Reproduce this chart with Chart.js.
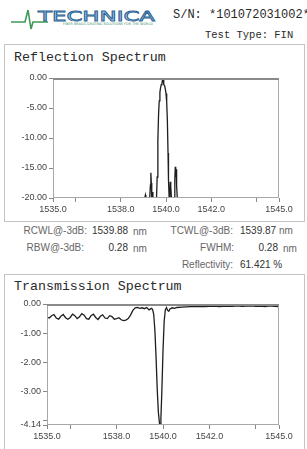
<!DOCTYPE html>
<html><head><meta charset="utf-8">
<script src="https://cdn.jsdelivr.net/npm/chart.js@4/dist/chart.umd.min.js"></script>
<style>
html,body{margin:0;padding:0;background:#fff;}
body{width:307px;height:449px;overflow:hidden;position:relative;font-family:"Liberation Sans",Arial,sans-serif;}
.abs{position:absolute;white-space:nowrap;}
.box{position:absolute;border:1px solid #c4c4c4;box-sizing:border-box;}
.mono{font-family:"Liberation Mono","DejaVu Sans Mono",monospace;color:#2a2a2a;}
.lbl{font-size:10px;color:#666;line-height:12px;}
.val{font-size:10px;color:#333;line-height:12px;}
canvas{position:absolute;}
</style></head>
<body>
<svg class="abs" style="left:0;top:0" width="170" height="34" viewBox="0 0 170 34">
  <polyline points="11,22 25,22 28,10 31,29 33,22 48,22" fill="none" stroke="#3f9a55" stroke-width="1.6"/>
  <text x="38" y="21" textLength="117" lengthAdjust="spacingAndGlyphs" font-family="DejaVu Sans" font-size="14" fill="#b9d5ec" stroke="#2d6596" stroke-width="0.8">TECHNICA</text>
  <text x="63" y="25" textLength="90" lengthAdjust="spacingAndGlyphs" font-family="DejaVu Sans" font-size="3.5" fill="#3f8f6a">FIBER BRAGG GRATING SOLUTIONS FOR THE WORLD</text>
</svg>
<div class="abs mono" style="left:173px;top:7px;font-size:12px;line-height:16px;">S/N: *101072031002*</div>
<div class="abs mono" style="left:205px;top:29px;font-size:10.5px;line-height:13px;">Test Type: FIN</div>

<div class="box" style="left:4px;top:44px;width:301px;height:178px;"></div>
<div class="abs mono" style="left:14px;top:50px;font-size:13.3px;line-height:16px;">Reflection Spectrum</div>
<canvas id="refl" style="left:0;top:68px;" width="295" height="148"></canvas>

<div class="abs lbl" style="left:0;top:225px;width:87px;text-align:right;">RCWL@-3dB:</div>
<div class="abs val" style="left:92px;top:225px;">1539.88</div>
<div class="abs lbl" style="left:133px;top:226px;">nm</div>
<div class="abs lbl" style="left:100px;top:225px;width:133px;text-align:right;">TCWL@-3dB:</div>
<div class="abs val" style="left:240px;top:225px;">1539.87 <span style="color:#666">nm</span></div>

<div class="abs lbl" style="left:0;top:242px;width:84px;text-align:right;">RBW@-3dB:</div>
<div class="abs val" style="left:0;top:242px;width:128px;text-align:right;">0.28</div>
<div class="abs lbl" style="left:133px;top:243px;">nm</div>
<div class="abs lbl" style="left:100px;top:242px;width:134px;text-align:right;">FWHM:</div>
<div class="abs val" style="left:0;top:242px;width:278px;text-align:right;">0.28</div>
<div class="abs lbl" style="left:283px;top:243px;">nm</div>

<div class="abs lbl" style="left:100px;top:259px;width:133px;text-align:right;">Reflectivity:</div>
<div class="abs val" style="left:240px;top:259px;">61.421 %</div>

<div class="box" style="left:4px;top:274px;width:301px;height:180px;"></div>
<div class="abs mono" style="left:14px;top:279px;font-size:13.3px;line-height:16px;">Transmission Spectrum</div>
<canvas id="trans" style="left:0;top:294px;" width="295" height="149"></canvas>

<script>
// ---- data ----
const xTickValues = [1535, 1536, 1538, 1540, 1542, 1544, 1545];
const xTickLabels = ["1535.0", "", "1538.0", "1540.0", "1542.0", "", "1545.0"];

const reflYTickValues = [0, -5, -10, -15, -20];
const reflYTickLabels = ["0.00", "-5.00", "-10.00", "-15.00", "-20.00"];

const transYTickValues = [0, -1, -2, -3, -4, -4.14];
const transYTickLabels = ["0.00", "-1.00", "-2.00", "-3.00", "", "-4.14"];

const reflWl = [1535.0, 1539.06, 1539.09, 1539.11, 1539.14, 1539.28, 1539.31, 1539.33, 1539.35, 1539.37,
  1539.40, 1539.42, 1539.44, 1539.58, 1539.61, 1539.64, 1539.67, 1539.70, 1539.73, 1539.76,
  1539.79, 1539.82, 1539.85, 1539.87, 1539.89, 1539.91, 1539.94, 1539.97, 1540.00, 1540.03,
  1540.06, 1540.09, 1540.11, 1540.14, 1540.17, 1540.19, 1540.21, 1540.24, 1540.27, 1540.36,
  1540.39, 1540.41, 1540.43, 1540.45, 1540.47, 1540.50, 1545.0];
const reflDb = [-20, -20, -19.5, -20, -20, -20, -17.8, -15.8, -17.5, -20,
  -19.0, -20, -20, -20, -16.5, -10.5, -6.2, -3.8, -2.4, -1.6,
  -1.1, -0.9, -0.2, 0, -0.4, -1.1, -1.3, -1.8, -2.6, -4.0,
  -7.0, -12.5, -17.0, -20, -19.0, -17.3, -18.0, -20, -20, -20,
  -17.0, -14.8, -16.5, -15.2, -18.0, -20, -20];

const transWl = [1535.0, 1535.1, 1535.2, 1535.3, 1535.4, 1535.5, 1535.6, 1535.7, 1535.8, 1535.9,
  1536.0, 1536.1, 1536.2, 1536.3, 1536.4, 1536.5, 1536.6, 1536.7, 1536.8, 1536.9,
  1537.0, 1537.1, 1537.2, 1537.3, 1537.4, 1537.5, 1537.6, 1537.7, 1537.8, 1537.9,
  1538.0, 1538.1, 1538.2, 1538.3, 1538.4, 1538.5, 1538.6, 1538.7, 1538.8, 1538.9,
  1539.0, 1539.1, 1539.2, 1539.3, 1539.4, 1539.5, 1539.55, 1539.6, 1539.65, 1539.7,
  1539.75, 1539.8, 1539.85, 1539.88, 1539.91, 1539.95, 1540.0, 1540.05, 1540.1, 1540.15,
  1540.2, 1540.25, 1540.3, 1540.4, 1540.5, 1540.6, 1540.8, 1541.0, 1541.2, 1541.4,
  1541.6, 1541.8, 1542.0, 1542.2, 1542.4, 1542.6, 1542.8, 1543.0, 1543.2, 1543.4,
  1543.6, 1543.8, 1544.0, 1544.2, 1544.4, 1544.6, 1544.8, 1545.0];
const transDb = [-0.45, -0.48, -0.40, -0.36, -0.48, -0.52, -0.42, -0.36, -0.47, -0.52,
  -0.46, -0.35, -0.40, -0.50, -0.44, -0.33, -0.38, -0.50, -0.52, -0.40,
  -0.35, -0.46, -0.53, -0.42, -0.37, -0.48, -0.50, -0.40, -0.43, -0.52,
  -0.50, -0.47, -0.54, -0.57, -0.55, -0.50, -0.38, -0.22, -0.13, -0.12,
  -0.15, -0.13, -0.16, -0.12, -0.20, -0.15, -0.18, -0.35, -0.90, -1.80,
  -2.90, -3.70, -4.10, -4.14, -3.90, -3.00, -1.60, -0.60, -0.20, -0.12,
  -0.22, -0.25, -0.17, -0.13, -0.15, -0.12, -0.11, -0.10, -0.09, -0.09,
  -0.08, -0.09, -0.08, -0.07, -0.09, -0.08, -0.07, -0.08, -0.06, -0.08,
  -0.07, -0.06, -0.08, -0.07, -0.09, -0.06, -0.08, -0.09];

// ---- helpers ----
const frame = {
  id: 'frame',
  afterDatasetsDraw(chart) {
    const a = chart.chartArea, c = chart.ctx;
    c.save();
    c.strokeStyle = '#a8a8a8'; c.lineWidth = 1;
    c.strokeRect(a.left + 0.5, a.top + 0.5, a.right - a.left - 1, a.bottom - a.top - 1);
    c.strokeStyle = '#8a8a8a'; c.lineWidth = 2;
    c.beginPath(); c.moveTo(a.left, a.top + 1); c.lineTo(a.right, a.top + 1); c.stroke();
    c.restore();
  }
};

function makeChart(id, wl, db, yMin, yTicks, yLabels, yWidth) {
  const pts = wl.map((x, i) => ({ x: x, y: db[i] }));
  return new Chart(document.getElementById(id), {
    type: 'line',
    data: { datasets: [{ data: pts, borderColor: '#1e1e1e', borderWidth: 1.3, pointRadius: 0, tension: 0, fill: false }] },
    options: {
      responsive: false, animation: false, devicePixelRatio: 1,
      layout: { padding: { top: 10, right: 16, left: 0, bottom: 0 } },
      plugins: { legend: { display: false }, tooltip: { enabled: false } },
      scales: {
        x: {
          type: 'linear', min: 1535, max: 1545,
          afterBuildTicks: s => { s.ticks = xTickValues.map(v => ({ value: v })); },
          afterFit: s => { s.height = 18; },
          ticks: { autoSkip: false, maxRotation: 0, padding: 2, color: '#444',
                   font: { family: 'Liberation Sans', size: 9 },
                   callback: v => xTickLabels[xTickValues.indexOf(v)] },
          grid: { drawOnChartArea: false, drawTicks: true, tickLength: 4, color: '#888' },
          border: { display: false }
        },
        y: {
          min: yMin, max: 0,
          afterBuildTicks: s => { s.ticks = yTicks.map(v => ({ value: v })); },
          afterFit: s => { s.width = yWidth; },
          ticks: { autoSkip: false, padding: 2, color: '#444',
                   font: { family: 'Liberation Sans', size: 9 },
                   callback: v => yLabels[yTicks.indexOf(v)] },
          grid: { drawOnChartArea: false, drawTicks: true, tickLength: 4, color: '#888' },
          border: { display: false }
        }
      }
    },
    plugins: [frame]
  });
}

makeChart('refl', reflWl, reflDb, -20, reflYTickValues, reflYTickLabels, 53);
makeChart('trans', transWl, transDb, -4.14, transYTickValues, transYTickLabels, 47);
</script>
</body></html>
